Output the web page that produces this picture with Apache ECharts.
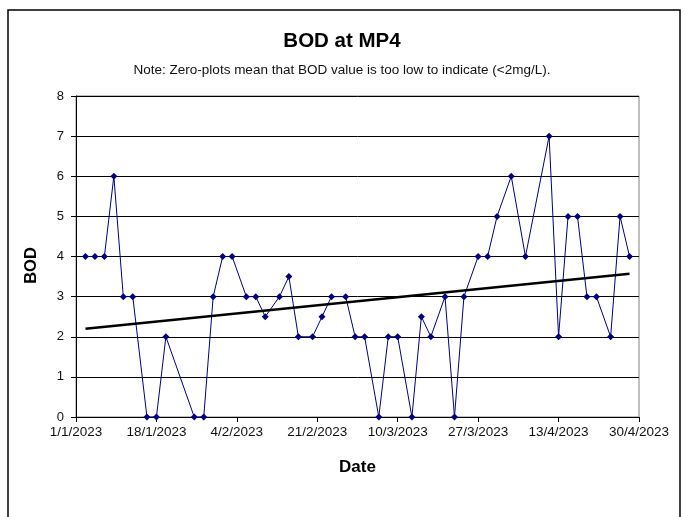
<!DOCTYPE html>
<html>
<head>
<meta charset="utf-8">
<script src="https://cdn.jsdelivr.net/npm/echarts@6/dist/echarts.min.js"></script>
<style>
html,body{margin:0;padding:0;background:#fff;}
#chart{width:684px;height:517px;}
</style>
</head>
<body>
<div id="chart"></div>
<script>
var titleText = 'BOD at MP4';
var noteText = 'Note: Zero-plots mean that BOD value is too low to indicate (<2mg/L).';
var startDate = '2023-01-01';
var endDate = '2023-04-30';
var dates = ['2023-01-03','2023-01-05','2023-01-07','2023-01-09','2023-01-11','2023-01-13','2023-01-16','2023-01-18','2023-01-20','2023-01-26','2023-01-28','2023-01-30',
  '2023-02-01','2023-02-03','2023-02-06','2023-02-08','2023-02-10','2023-02-13','2023-02-15','2023-02-17','2023-02-20','2023-02-22','2023-02-24','2023-02-27',
  '2023-03-01','2023-03-03','2023-03-06','2023-03-08','2023-03-10','2023-03-13','2023-03-15','2023-03-17','2023-03-20','2023-03-22','2023-03-24','2023-03-27','2023-03-29','2023-03-31',
  '2023-04-03','2023-04-06','2023-04-11','2023-04-13','2023-04-15','2023-04-17','2023-04-19','2023-04-21','2023-04-24','2023-04-26','2023-04-28'];
var bod = [4,4,4,6,3,3,0,0,2,0,0,3,
  4,4,3,3,2.5,3,3.5,2,2,2.5,3,3,
  2,2,0,2,2,0,2.5,2,3,0,3,4,4,5,
  6,4,7,2,5,5,3,3,2,5,4];
var trendDates = ['2023-01-03','2023-04-28'];
var trendValues = [2.2,3.57];
var yTicks = [0,1,2,3,4,5,6,7,8];

var DAY = 86400000;
function dayOf(s){ return Math.round((Date.parse(s+'T00:00:00Z') - Date.parse(startDate+'T00:00:00Z'))/DAY); }
var xMax = dayOf(endDate);
function fmt(d){
  var t = new Date(Date.parse(startDate+'T00:00:00Z') + d*DAY);
  return t.getUTCDate() + '/' + (t.getUTCMonth()+1) + '/' + t.getUTCFullYear();
}
var seriesData = dates.map(function(d,i){ return [dayOf(d), bod[i]]; });
var trendData = trendDates.map(function(d,i){ return [dayOf(d), trendValues[i]]; });

var FONT = 'Liberation Sans, Arial, sans-serif';
var chart = echarts.init(document.getElementById('chart'));
chart.setOption({
  backgroundColor: '#fff',
  animation: false,
  textStyle: { fontFamily: FONT },
  title: [
    { text: titleText, left: 'center', top: 26, textStyle: { fontSize: 20.5, fontWeight: 'bold', color: '#000', fontFamily: FONT } },
    { text: noteText, left: 'center', top: 58, textStyle: { fontSize: 13.5, fontWeight: 'normal', color: '#111', fontFamily: FONT } }
  ],
  graphic: [
    { type: 'rect', shape: { x: 8, y: 10, width: 672, height: 520 }, style: { fill: 'none', stroke: '#000', lineWidth: 1.5 }, silent: true, z: -1 }
  ],
  grid: { left: 76, right: 45, top: 96, bottom: 100, show: true, borderColor: '#808080', borderWidth: 1, backgroundColor: 'transparent' },
  xAxis: {
    type: 'value', min: 0, max: xMax, interval: 17,
    name: 'Date', nameLocation: 'middle', nameGap: 42,
    nameTextStyle: { fontSize: 17, fontWeight: 'bold', color: '#000' },
    axisLine: { show: true, lineStyle: { color: '#000', width: 1 } },
    axisTick: { show: true, length: 5, lineStyle: { color: '#000' } },
    axisLabel: { formatter: function(v){ return fmt(v); }, fontSize: 13.5, color: '#111', margin: 8 },
    splitLine: { show: false }
  },
  yAxis: {
    type: 'value', min: yTicks[0], max: yTicks[yTicks.length-1], interval: 1,
    name: 'BOD', nameLocation: 'middle', nameGap: 36, nameRotate: 90,
    nameTextStyle: { fontSize: 16.5, fontWeight: 'bold', color: '#000', padding: [0, 18, 0, 0] },
    axisLine: { show: true, lineStyle: { color: '#000', width: 1 } },
    axisTick: { show: true, length: 5, lineStyle: { color: '#000' } },
    axisLabel: { fontSize: 13, color: '#111', margin: 12 },
    splitLine: { show: true, lineStyle: { color: '#000', width: 1 } }
  },
  series: [
    {
      type: 'line', data: seriesData,
      symbol: 'diamond', symbolSize: 7,
      lineStyle: { color: '#000080', width: 1 },
      itemStyle: { color: '#000080' },
      z: 3
    },
    {
      type: 'line', data: trendData, symbol: 'none',
      lineStyle: { color: '#000', width: 2.5 },
      z: 4
    }
  ]
});
</script>
</body>
</html>
